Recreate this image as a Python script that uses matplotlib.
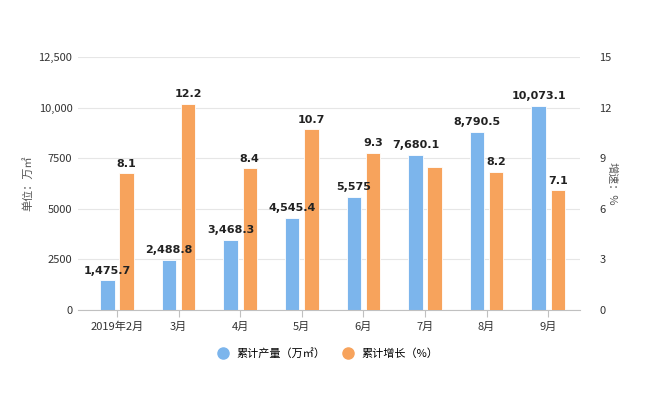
import matplotlib.pyplot as plt
import numpy as np
from matplotlib.ticker import FixedLocator, FixedFormatter

plt.rcParams['font.family'] = ['Noto Sans CJK SC', 'DejaVu Sans']

months = ["2019年2月", "3月", "4月", "5月", "6月", "7月", "8月", "9月"]
output = [1475.7, 2488.8, 3468.3, 4545.4, 5575, 7680.1, 8790.5, 10073.1]
output_labels = ["1,475.7", "2,488.8", "3,468.3", "4,545.4", "5,575", "7,680.1", "8,790.5", "10,073.1"]
growth = [8.1, 12.2, 8.4, 10.7, 9.3, 8.5, 8.2, 7.1]
growth_labels = ["8.1", "12.2", "8.4", "10.7", "9.3", "", "8.2", "7.1"]

blue = "#7cb5ec"
orange = "#f7a35c"
text_color = "#333333"

fig = plt.figure(figsize=(6.5, 3.95), dpi=100)
ax = fig.add_axes([78 / 650, 0.215, 502 / 650, 0.641])
ax2 = ax.twinx()

x = np.arange(len(months))
w = 0.235
off = 0.155

# blue bars + grid on the back axes, orange bars and all labels on the front one
ax.bar(x - off, output, w, color=blue, edgecolor="white", linewidth=0.6, zorder=3)
ax2.bar(x + off, growth, w, color=orange, edgecolor="white", linewidth=0.6, zorder=3)

for xi, v, s in zip(x, output, output_labels):
    ax2.text(xi - off, v + 230, s, transform=ax.transData, ha="center", va="bottom",
             fontsize=8, fontweight="bold", family="DejaVu Sans", color="#222222", zorder=5)
for xi, v, s in zip(x, growth, growth_labels):
    if s:
        ax2.text(xi + off, v + 0.28, s, ha="center", va="bottom", fontsize=8,
                 fontweight="bold", family="DejaVu Sans", color="#222222", zorder=5)

ax.set_xlim(-0.633, 7.516)
ax.set_ylim(0, 12500)
ax2.set_ylim(0, 15)

ax.yaxis.set_major_locator(FixedLocator([0, 2500, 5000, 7500, 10000, 12500]))
ax.yaxis.set_major_formatter(FixedFormatter(["0", "2500", "5000", "7500", "10,000", "12,500"]))
ax2.set_yticks([0, 3, 6, 9, 12, 15])

ax.set_xticks(x)
ax.set_xticklabels(months)

ax.grid(axis="y", color="#e6e6e6", linewidth=0.8, zorder=0)
for a in (ax, ax2):
    for sp in a.spines.values():
        sp.set_visible(False)
ax2.spines["bottom"].set_visible(True)
ax2.spines["bottom"].set_color("#c0c0c0")

ax.tick_params(axis="y", length=0, labelsize=8, labelcolor=text_color, pad=4)
ax2.tick_params(axis="y", length=0, labelsize=8, labelcolor=text_color, pad=14)
ax.tick_params(axis="x", length=5, color="#c0c0c0", labelsize=8, labelcolor=text_color)

ax.set_ylabel("单位：万㎡", fontsize=8, color="#555555")
ax.yaxis.set_label_coords(-0.09, 0.5)
ax2.set_ylabel("增速：%", fontsize=8, color="#555555", rotation=270, va="center")
ax2.yaxis.set_label_coords(1.064, 0.5)

h1 = plt.Line2D([], [], marker="o", linestyle="", markersize=8, color=blue)
h2 = plt.Line2D([], [], marker="o", linestyle="", markersize=8, color=orange)
fig.legend([h1, h2], ["累计产量（万㎡）", "累计增长（%）"], loc="center",
           bbox_to_anchor=(0.5, 0.105), ncol=2, frameon=False, fontsize=8,
           handletextpad=0.2, columnspacing=1.0)

fig.savefig("out.png", dpi=100)
